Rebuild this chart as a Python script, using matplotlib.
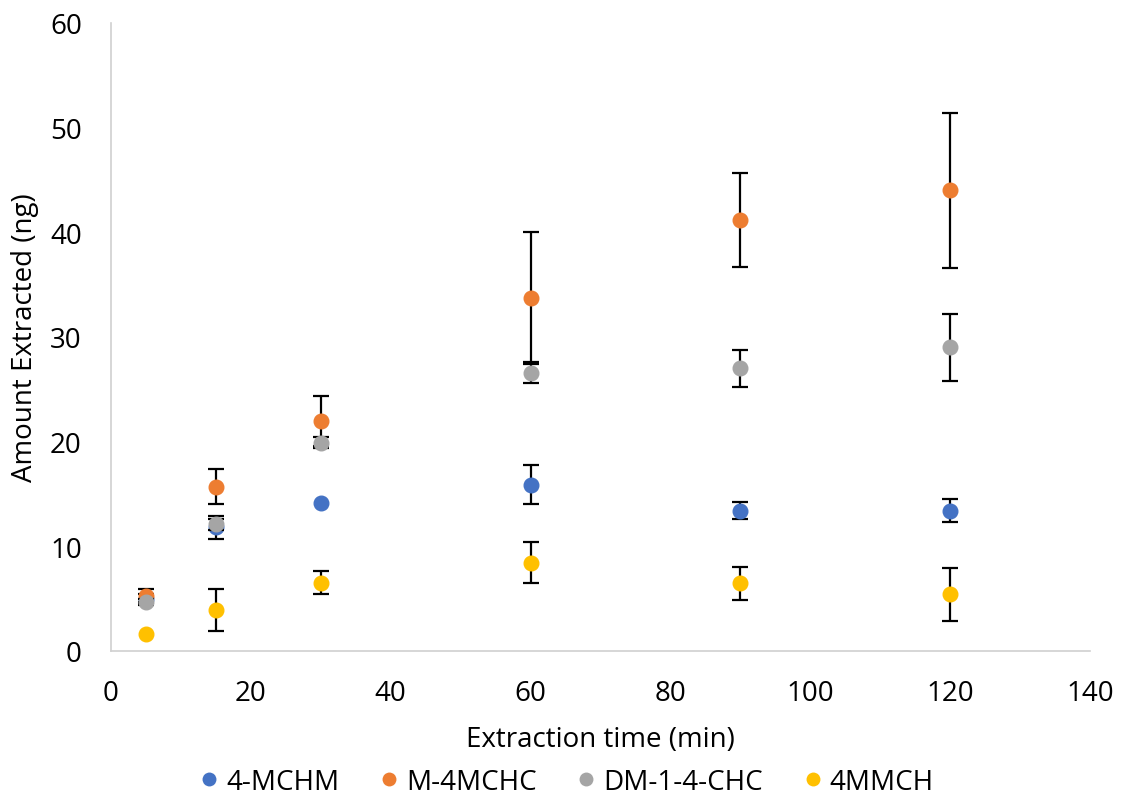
import matplotlib
matplotlib.use("Agg")
import numpy as np
import matplotlib.pyplot as plt
from matplotlib.lines import Line2D

plt.rcParams['font.family'] = ['Open Sans', 'DejaVu Sans']

time_min = [5, 15, 30, 60, 90, 120]
series_names = ["4-MCHM", "M-4MCHC", "DM-1-4-CHC", "4MMCH"]
colors = ["#4472C4", "#ED7D31", "#A5A5A5", "#FFC000"]

mchm = [5.0, 11.8, 14.1, 15.9, 13.4, 13.4]
mchm_err = [0.4, 1.1, 0.0, 1.9, 0.8, 1.1]
m4mchc = [5.3, 15.7, 22.0, 33.7, 41.2, 44.0]
m4mchc_err = [0.6, 1.7, 2.4, 6.3, 4.5, 7.4]
dm14chc = [4.7, 12.1, 19.9, 26.6, 27.0, 29.0]
dm14chc_err = [0.3, 0.5, 0.5, 1.0, 1.8, 3.2]
mmch = [1.6, 3.9, 6.5, 8.45, 6.45, 5.4]
mmch_err = [0.0, 2.0, 1.1, 1.95, 1.55, 2.55]

values = [mchm, m4mchc, dm14chc, mmch]
errors = [mchm_err, m4mchc_err, dm14chc_err, mmch_err]

fig = plt.figure(figsize=(11.29, 8.04), dpi=100)
ax = fig.add_axes([111/1129, 1 - 652/804, (1090-111)/1129, (652-24)/804])

z = 3
for name, col, v, e in zip(series_names, colors, values, errors):
    x = np.array(time_min, dtype=float)
    y = np.array(v, dtype=float)
    err = np.array(e, dtype=float)
    m = err > 0
    ax.errorbar(x[m], y[m], yerr=err[m], fmt='none', ecolor='black',
                elinewidth=1.6, capsize=6, capthick=1.6, zorder=z)
    ax.plot(x, y, 'o', color=col, markersize=10.5, markeredgecolor=col,
            label=name, zorder=z + 0.5)
    z += 1

ax.set_xlim(0, 140)
ax.set_ylim(0, 60)
ax.set_xticks(range(0, 141, 20))
ax.set_yticks(range(0, 61, 10))
ax.tick_params(axis='both', length=0, labelsize=20, colors='black')
ax.tick_params(axis='x', pad=20)
ax.tick_params(axis='y', pad=21)
for s in ['top', 'right']:
    ax.spines[s].set_visible(False)
for s in ['left', 'bottom']:
    ax.spines[s].set_color('#D0D0D0')
    ax.spines[s].set_linewidth(1.2)

ax.set_xlabel("Extraction time (min)", fontsize=20, labelpad=13)
ax.set_ylabel("Amount Extracted (ng)", fontsize=20, labelpad=8)

hs = [Line2D([], [], marker='o', linestyle='none', color=c, markersize=10, markeredgewidth=0) for c in colors]
fig.legend(hs, series_names, loc='center', bbox_to_anchor=(0.5, 1 - 783/804),
           ncol=4, frameon=False, fontsize=20, handletextpad=0.1, columnspacing=1.3,
           handlelength=1.0)

fig.savefig("out.png", dpi=100)
